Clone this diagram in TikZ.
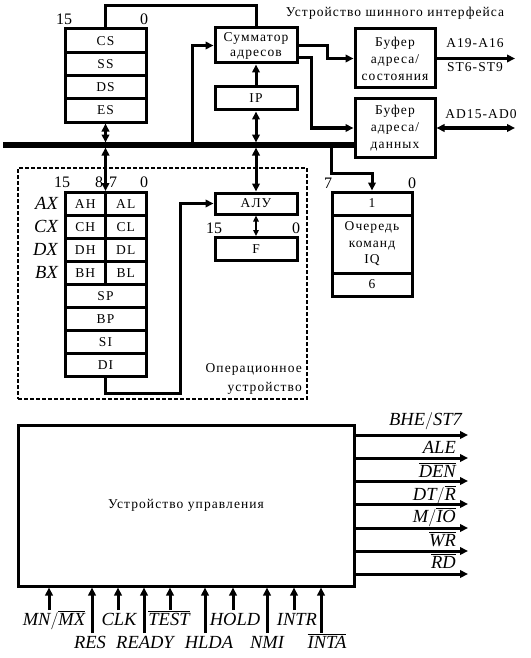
\documentclass[tikz,border=0pt]{standalone}
\usepackage{fontspec}
\setmainfont{Liberation Serif}[LetterSpace=8]
\newfontfamily\sigfont{Liberation Serif}
\usetikzlibrary{arrows.meta,calc}
\newcommand\ovl[1]{\ensuremath{\overline{\mbox{#1}}}}
\newcommand\tslash{\ensuremath{\big/}}
\tikzset{
  reg/.style={draw, line width=3pt, inner sep=0pt, align=center,
    minimum height=23pt, font=\fontsize{13.5}{14}\selectfont},
  txt/.style={inner sep=0pt, align=center, font=\fontsize{13.5}{14}\selectfont},
  num/.style={inner sep=0pt, anchor=base, font=\fontsize{16}{16}\selectfont\sigfont},
  sig/.style={inner sep=0pt, font=\fontsize{18.5}{19}\selectfont\sigfont\itshape},
  ln/.style={line width=3pt},
  arr/.style={line width=3pt, -{Triangle[length=8pt,width=7.5pt]}},
  darr/.style={line width=3pt, {Triangle[length=8pt,width=7.5pt]}-{Triangle[length=8pt,width=7.5pt]}},
  tarr/.style={line width=1.5pt, {Triangle[length=6pt,width=5.5pt]}-{Triangle[length=6pt,width=5.5pt]}},
  dbox/.style={draw, line width=2.2pt, dash pattern=on 4pt off 2pt, inner sep=0pt},
}
\begin{document}
\begin{tikzpicture}[x=1pt,y=-1pt]
\useasboundingbox (0,0) rectangle (530,658);

% ---------- bus interface unit ----------
\node[txt, anchor=base] (biu) at (395,17) {Устройство шинного интерфейса};

\node[num] (s15) at (64,25) {15};
\node[num] (s0) at (144,25) {0};
\node[reg, minimum width=81pt, minimum height=23.25pt] (cs) at (105.5,40.6) {CS};
\node[reg, minimum width=81pt, minimum height=23.25pt] (ss) at (105.5,63.9) {SS};
\node[reg, minimum width=81pt, minimum height=23.25pt] (ds) at (105.5,87.1) {DS};
\node[reg, minimum width=81pt, minimum height=23.25pt] (es) at (105.5,110.4) {ES};

\node[reg, minimum width=82pt, minimum height=35pt, font=\fontsize{13.5}{15}\selectfont] (sum) at (256,45.5) {Сумматор\\адресов};
\node[reg, minimum width=82pt] (ip) at (256,98.5) {IP};

\node[reg, minimum width=80pt, minimum height=59pt, font=\fontsize{13.5}{17}\selectfont] (buf1) at (395,58.5) {Буфер\\адреса/\\состояния};
\node[reg, minimum width=80pt, minimum height=58pt, font=\fontsize{13.5}{17}\selectfont] (buf2) at (395,128) {Буфер\\адреса/\\данных};

\node[txt, anchor=base] (a19) at (475,48) {A19-A16};
\node[txt, anchor=base] (st6) at (475,72) {ST6-ST9};
\node[txt, anchor=base] (ad15) at (481,118) {AD15-AD0};

% bus
\coordinate (busL) at (3,145);
\coordinate (busT) at (0,142.5);
\coordinate (busB) at (0,147.5);
\draw[line width=5.5pt] (busL) -- (busL -| buf2.west);

% connectors in BIU
\draw[ln] (cs.north) -- ++(0,-22) -| (sum.north);
\draw[arr] (ip.north) -- (sum.south);
\coordinate (b1) at (192,145);
\draw[arr] (b1) |- (sum.west);
\draw[arr] (sum.east) -- ++(29,0) |- (buf1.west);
\draw[arr] ($(sum.east)+(0,12)$) -- ++(13,0) |- (buf2.west);
\coordinate (o1) at (515,58.5);
\draw[arr] (buf1.east) -- (o1);
\coordinate (o2) at (515,128);
\draw[darr] (buf2.east) -- (o2);

% ---------- execution unit ----------
\node[dbox, minimum width=289pt, minimum height=231pt] (eu) at (162.5,283.5) {};

\node[num] (r15) at (62,187) {15};
\node[num] (r8) at (99,187) {8};
\node[num] (r7) at (113,187) {7};
\node[num] (r0) at (144,187) {0};

\node[reg, minimum width=40.5pt] (ah) at (85.25,204) {AH};
\node[reg, minimum width=40.5pt] (al) at (125.75,204) {AL};
\node[reg, minimum width=40.5pt] (ch) at (85.25,227) {CH};
\node[reg, minimum width=40.5pt] (cl) at (125.75,227) {CL};
\node[reg, minimum width=40.5pt] (dh) at (85.25,250) {DH};
\node[reg, minimum width=40.5pt] (dl) at (125.75,250) {DL};
\node[reg, minimum width=40.5pt] (bh) at (85.25,273) {BH};
\node[reg, minimum width=40.5pt] (bl) at (125.75,273) {BL};
\node[reg, minimum width=81pt] (sp) at (105.5,296) {SP};
\node[reg, minimum width=81pt] (bp) at (105.5,319) {BP};
\node[reg, minimum width=81pt] (si) at (105.5,342) {SI};
\node[reg, minimum width=81pt] (di) at (105.5,365) {DI};

\node[sig, anchor=east] (ax) at (58,203) {AX};
\node[sig, anchor=east] (cx) at (58,226) {CX};
\node[sig, anchor=east] (dx) at (58,249) {DX};
\node[sig, anchor=east] (bx) at (58,272) {BX};

\node[reg, minimum width=82pt, minimum height=21pt] (alu) at (256,203.5) {АЛУ};
\node[reg, minimum width=82pt] (f) at (256,249) {F};
\node[num] (f15) at (214,233) {15};
\node[num] (f0) at (296,233) {0};
\draw[tarr] (alu.south) -- (f.north);

\node[txt, anchor=base east] (op1) at (302,372) {Операционное};
\node[txt, anchor=base east] (op2) at (302,391) {устройство};

\draw[darr] (es.south) -- (es.south |- busT);
\draw[darr] (es.south |- busB) -- (es.south |- ah.north);
\draw[darr] (ip.south) -- (ip.south |- busT);
\draw[darr] (ip.south |- busB) -- (alu.north);
\draw[arr] (di.south) |- (180,393) |- (alu.west);

% ---------- instruction queue ----------
\node[num] (q7) at (328,188) {7};
\node[num] (q0) at (412,188) {0};
\node[reg, minimum width=80pt] (iq1) at (372,203.5) {1};
\node[reg, minimum width=80pt, minimum height=58pt, font=\fontsize{13.5}{16.5}\selectfont] (iqm) at (372,244) {Очередь\\команд\\IQ};
\node[reg, minimum width=80pt] (iq6) at (372,284.5) {6};
\coordinate (b2) at (331,145);
\draw[arr] (b2) -- ++(0,28) -| (iq1.north);

% ---------- control unit ----------
\node[reg, minimum width=336pt, minimum height=161pt] (cu) at (186,505.5) {Устройство управления};

\foreach \y [count=\i] in {435,458,481,504,528,551,574}{
  \coordinate (out\i) at (468,\y);
  \draw[arr] (out\i -| cu.east) -- (out\i);
}
\node[sig, anchor=base east] (bhe) at (462,425) {BHE\tslash ST7};
\node[sig, anchor=base east] (ale) at (456,453) {ALE};
\node[sig, anchor=base east] (den) at (456,477) {\ovl{DEN}};
\node[sig, anchor=base east] (dtr) at (456,500) {DT\tslash\ovl{R}};
\node[sig, anchor=base east] (mio) at (456,522) {M\tslash\ovl{IO}};
\node[sig, anchor=base east] (wr) at (456,546) {\ovl{WR}};
\node[sig, anchor=base east] (rd) at (456,568) {\ovl{RD}};

\foreach \x/\y [count=\i] in {49/610,92/633,118/610,144/633,170/610,205/633,233/610,267/633,294/610,321/633}{
  \coordinate (in\i) at (\x,\y);
  \draw[arr] (in\i) -- (in\i |- cu.south);
}
\node[sig, anchor=base] (mnmx) at (54,625) {MN\tslash\ovl{MX}};
\node[sig, anchor=base] (clk) at (119,625) {CLK};
\node[sig, anchor=base] (test) at (169,625) {\ovl{TEST}};
\node[sig, anchor=base] (hold) at (235,625) {HOLD};
\node[sig, anchor=base] (intr) at (297,625) {INTR};
\node[sig, anchor=base] (res) at (90,648) {RES};
\node[sig, anchor=base] (ready) at (145,648) {READY};
\node[sig, anchor=base] (hlda) at (209,648) {HLDA};
\node[sig, anchor=base] (nmi) at (267,648) {NMI};
\node[sig, anchor=base] (inta) at (327,648) {\ovl{INTA}};
\end{tikzpicture}
\end{document}
